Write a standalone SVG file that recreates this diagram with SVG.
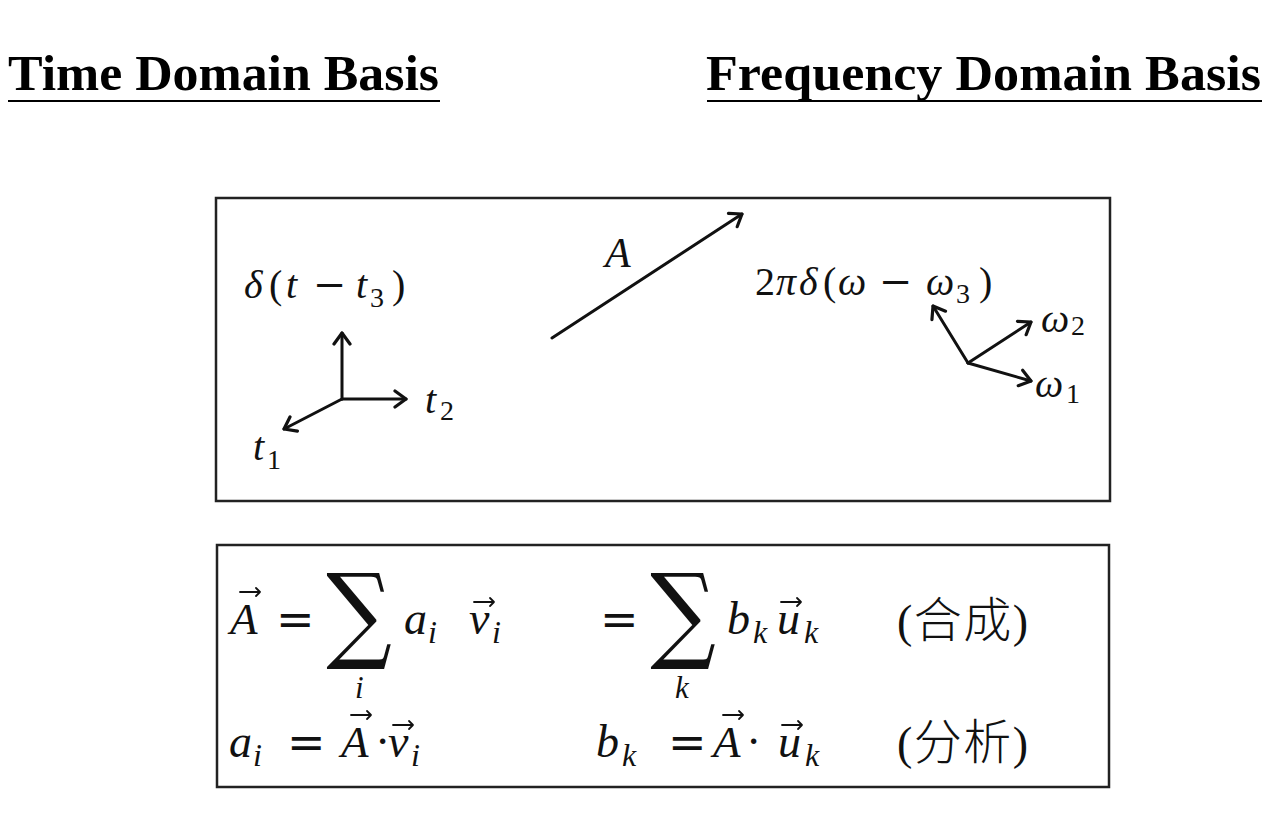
<svg xmlns="http://www.w3.org/2000/svg" width="1280" height="818" viewBox="0 0 1280 818">
<style>
.title{font-family:"Liberation Serif","Times New Roman",serif;font-weight:bold;font-size:51px;fill:#000}
.rule{stroke:#000;stroke-width:2}
.box{fill:none;stroke:#222;stroke-width:2.5}
.m{font-family:"Liberation Serif","DejaVu Serif",serif;font-style:italic;fill:#111}
.u{font-family:"Liberation Serif","DejaVu Serif",serif;font-style:normal;fill:#111}
.op{font-family:"DejaVu Serif",serif;font-style:normal;fill:#111}
.cjk{font-family:"Noto Sans CJK SC","Noto Sans CJK TC",sans-serif;font-weight:300;fill:#111}
.ax{fill:none;stroke:#111;stroke-width:3;stroke-linecap:round;marker-end:url(#ah)}
.vec{fill:none;stroke:#111;stroke-width:1.8;stroke-linecap:round;stroke-linejoin:round}
.sig{font-family:"DejaVu Serif",serif;fill:#111}
</style>
<defs>
<marker id="ah" viewBox="-14 -11 16 22" markerWidth="16" markerHeight="22" refX="0" refY="0" orient="auto" markerUnits="userSpaceOnUse">
<path d="M-11,-8 L0,0 L-11,8" fill="none" stroke="#111" stroke-width="3.2" stroke-linecap="round" stroke-linejoin="round"/>
</marker>
</defs>
<rect width="1280" height="818" fill="#fff"/>

<g id="title-time">
<text class="title" x="8" y="90" textLength="431" lengthAdjust="spacingAndGlyphs">Time Domain Basis</text>
<line class="rule" x1="8" y1="101" x2="440" y2="101"/>
</g>
<g id="title-frequency">
<text class="title" x="706" y="90" textLength="555" lengthAdjust="spacingAndGlyphs">Frequency Domain Basis</text>
<line class="rule" x1="707" y1="101" x2="1262" y2="101"/>
</g>

<g id="basis-panel">
<rect class="box" x="216" y="198" width="894" height="303"/>
</g>

<g id="time-basis">
<text class="m" y="298" font-size="40"><tspan x="244">δ</tspan><tspan class="u" x="269">(</tspan><tspan x="286">t</tspan><tspan class="op" x="313">−</tspan><tspan x="356">t</tspan><tspan class="u" font-size="28" x="370" dy="9">3</tspan><tspan class="u" x="392" dy="-9">)</tspan></text>
<text class="m" y="413" font-size="40"><tspan x="425">t</tspan><tspan class="u" font-size="28" x="440" dy="7">2</tspan></text>
<text class="m" y="460" font-size="40"><tspan x="253">t</tspan><tspan class="u" font-size="28" x="267" dy="9">1</tspan></text>
</g>

<g id="vector-A">
<text class="m" x="605" y="267" font-size="42">A</text>
</g>

<g id="frequency-basis">
<text class="m" y="295" font-size="40"><tspan class="u" x="755">2</tspan><tspan x="776">π</tspan><tspan x="799">δ</tspan><tspan class="u" x="823">(</tspan><tspan x="838">ω</tspan><tspan class="op" x="879">−</tspan><tspan x="926">ω</tspan><tspan class="u" font-size="28" x="956" dy="8">3</tspan><tspan class="u" x="979" dy="-8">)</tspan></text>
<text class="m" y="332" font-size="40"><tspan x="1041">ω</tspan><tspan class="u" font-size="28" x="1071" dy="3">2</tspan></text>
<text class="m" y="397" font-size="40"><tspan x="1035">ω</tspan><tspan class="u" font-size="28" x="1066" dy="6">1</tspan></text>
</g>

<g id="connectors">
<path class="ax" d="M342,399 L342,333"/>
<path class="ax" d="M342,399 L406,399"/>
<path class="ax" d="M342,399 L284,429"/>
<path class="ax" d="M552,338 L742,214"/>
<path class="ax" d="M968,363 L933,306"/>
<path class="ax" d="M968,363 L1031,322"/>
<path class="ax" d="M968,363 L1031,381"/>
</g>

<g id="formula-panel">
<rect class="box" x="217" y="545" width="892" height="242"/>
</g>

<g id="synthesis">
<text class="m" x="230" y="634" font-size="45">A</text>
<path class="vec" d="M240,592 H260 M256,588 L260,592 L256,596"/>
<text class="op" x="276" y="635" font-size="46">=</text>
<text class="sig" x="359" y="649" font-size="92" text-anchor="middle" transform="translate(359,649) scale(1,1.15) translate(-359,-649)">∑</text>
<text class="m" x="355" y="698" font-size="31">i</text>
<text class="m" y="634" font-size="46"><tspan x="404">a</tspan><tspan font-size="32" x="428" dy="9">i</tspan></text>
<text class="m" y="634" font-size="46"><tspan x="469">v</tspan><tspan font-size="32" x="492" dy="9">i</tspan></text>
<path class="vec" d="M474,602 H494 M490,598 L494,602 L490,606"/>

<text class="op" x="600" y="635" font-size="46">=</text>
<text class="sig" x="683" y="649" font-size="92" text-anchor="middle" transform="translate(683,649) scale(1,1.15) translate(-683,-649)">∑</text>
<text class="m" x="675" y="698" font-size="31">k</text>
<text class="m" y="634" font-size="46"><tspan x="727">b</tspan><tspan font-size="32" x="753" dy="9">k</tspan></text>
<text class="m" y="634" font-size="46"><tspan x="777">u</tspan><tspan font-size="32" x="804" dy="9">k</tspan></text>
<path class="vec" d="M781,602 H801 M797,598 L801,602 L797,606"/>

<text x="897" y="637" font-size="46" textLength="131"><tspan class="u">(</tspan><tspan class="cjk" font-size="48">合成</tspan><tspan class="u">)</tspan></text>
</g>

<g id="analysis">
<text class="m" y="757" font-size="46"><tspan x="229">a</tspan><tspan font-size="32" x="253" dy="9">i</tspan></text>
<text class="op" x="287" y="758" font-size="46">=</text>
<text class="m" x="341" y="757" font-size="45">A</text>
<path class="vec" d="M351,715 H371 M367,711 L371,715 L367,719"/>
<text class="u" x="375" y="757" font-size="46">·</text>
<text class="m" y="757" font-size="46"><tspan x="388">v</tspan><tspan font-size="32" x="411" dy="9">i</tspan></text>
<path class="vec" d="M393,725 H413 M409,721 L413,725 L409,729"/>

<text class="m" y="757" font-size="46"><tspan x="596">b</tspan><tspan font-size="32" x="622" dy="9">k</tspan></text>
<text class="op" x="668" y="758" font-size="46">=</text>
<text class="m" x="713" y="757" font-size="45">A</text>
<path class="vec" d="M723,715 H743 M739,711 L743,715 L739,719"/>
<text class="u" x="746" y="757" font-size="46">·</text>
<text class="m" y="757" font-size="46"><tspan x="778">u</tspan><tspan font-size="32" x="805" dy="9">k</tspan></text>
<path class="vec" d="M782,725 H802 M798,721 L802,725 L798,729"/>

<text x="897" y="759" font-size="46" textLength="131"><tspan class="u">(</tspan><tspan class="cjk" font-size="48">分析</tspan><tspan class="u">)</tspan></text>
</g>
</svg>
